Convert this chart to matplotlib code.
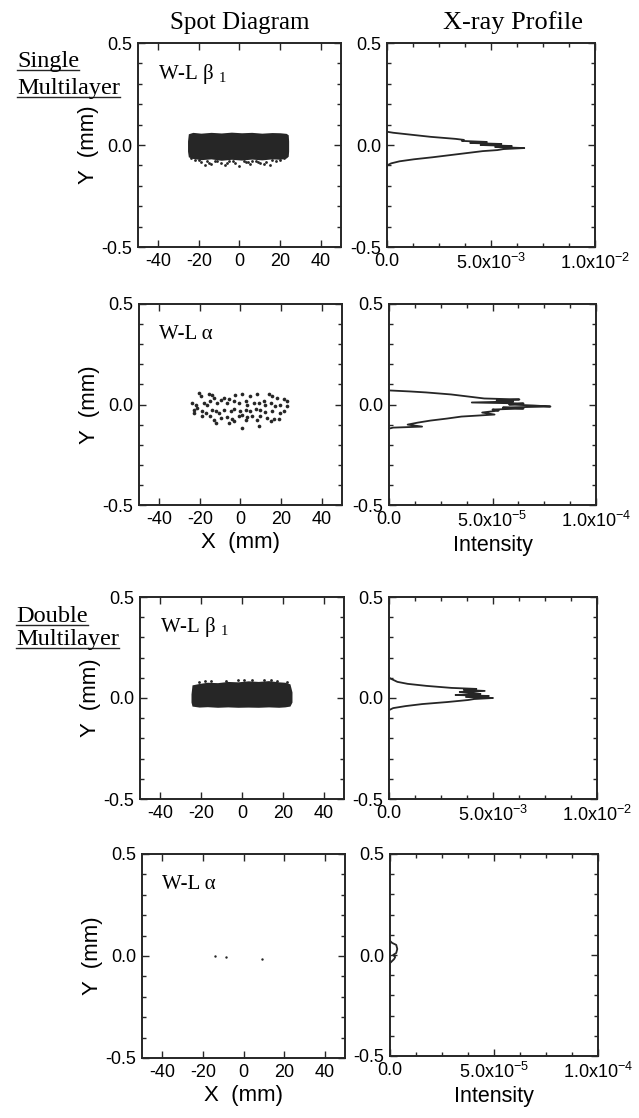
import matplotlib
matplotlib.use("Agg")
import matplotlib.pyplot as plt
from matplotlib.lines import Line2D
from matplotlib.ticker import MultipleLocator

plt.rcParams['font.family'] = ['Liberation Sans', 'DejaVu Sans']
plt.rcParams['axes.unicode_minus'] = False
SERIF = ['Liberation Serif', 'DejaVu Serif']
INK = '#262626'

# ── 光斑外轮廓 (密集区域)：x (mm)，上下边界 y (mm) ──────────────
blob1_x = [-25.6, -25.2, -23.0, -19.0, -14.0, -9.0, -4.0, 1.0, 6.0, 11.0, 16.0, 20.0, 23.0, 24.0, 24.2]
blob1_top = [0.02, 0.055, 0.062, 0.058, 0.062, 0.059, 0.063, 0.060, 0.062, 0.058, 0.061, 0.060, 0.057, 0.05, 0.02]
blob1_bot = [-0.03, -0.058, -0.066, -0.072, -0.068, -0.075, -0.070, -0.074, -0.069, -0.073, -0.068, -0.070, -0.064, -0.055, -0.03]
# 光斑下缘零散点
stray1_x = [-22, -19, -16, -14, -12, -9, -7, -5, -2, 0, 3, 5, 8, 10, 13, 15, 18, 20, -17, -6, 6, 12,
            -20, -11, -3, 2, 9, 16, -24, 22, -15, 4]
stray1_y = [-0.072, -0.082, -0.076, -0.092, -0.078, -0.088, -0.098, -0.080, -0.090, -0.103, -0.083,
            -0.093, -0.078, -0.088, -0.083, -0.097, -0.077, -0.072, -0.098, -0.086, -0.076, -0.093,
            -0.074, -0.079, -0.077, -0.076, -0.081, -0.075, -0.062, -0.066, -0.086, -0.084]

blob3_x = [-25.0, -24.5, -21.0, -17.0, -12.0, -7.0, -2.0, 3.0, 8.0, 13.0, 18.0, 21.0, 23.5, 24.5]
blob3_top = [0.02, 0.065, 0.072, 0.078, 0.076, 0.082, 0.080, 0.085, 0.082, 0.086, 0.080, 0.078, 0.070, 0.03]
blob3_bot = [-0.02, -0.040, -0.045, -0.043, -0.046, -0.044, -0.046, -0.045, -0.046, -0.044, -0.046, -0.044, -0.040, -0.02]
stray3_x = [-21, -15, -8, -2, 5, 11, 17, 22, -18, 1, 14]
stray3_y = [0.080, 0.086, 0.086, 0.088, 0.089, 0.091, 0.085, 0.079, 0.082, 0.087, 0.089]

# W-Lα 单层：稀疏光点
sparse2_x = [-20.5, -19.7, -15.6, -13.9, -13.1, -8.2, -5.7, -2.5, 0.8, 4.9, 8.2, 13.9, 15.6, 18.0, 21.3,
             23.0, -23.8, -22.1, -18.0, -16.4, -14.8, -11.5, -9.8, -6.6, -3.3, -0.8, 2.5, 3.3, 6.6, 9.0,
             11.5, 12.3, 14.8, 17.2, 19.7, 23.0, -23.0, -18.9, -17.2, -13.9, -12.3, -10.7, -8.2, -4.9,
             -3.3, 0.0, 2.5, 4.9, 7.4, 9.8, 12.3, 15.6, 19.7, -18.9, -14.8, -13.1, -9.8, -6.6, -4.1,
             -0.8, 0.8, 3.3, 5.7, 9.8, 13.1, 16.4, 18.9, -12.3, -3.3, 0.8, 9.0, 14.8, -23.0, -21.3,
             21.3, -5.7, 2.5, 8.2]
sparse2_y = [0.055, 0.041, 0.050, 0.045, 0.033, 0.033, 0.028, 0.045, 0.050, 0.041, 0.050, 0.050, 0.041,
             0.033, 0.025, 0.017, 0.008, 0.000, 0.008, 0.000, 0.017, 0.008, 0.022, 0.008, 0.017, 0.008,
             0.017, 0.000, 0.005, 0.008, 0.017, 0.000, 0.008, -0.008, 0.000, -0.008, -0.025, -0.033,
             -0.041, -0.025, -0.033, -0.041, -0.028, -0.033, -0.022, -0.033, -0.025, -0.033, -0.022,
             -0.028, -0.038, -0.033, -0.041, -0.058, -0.058, -0.075, -0.066, -0.061, -0.071, -0.058,
             -0.050, -0.061, -0.055, -0.058, -0.066, -0.071, -0.071, -0.091, -0.083, -0.116, -0.108,
             -0.083, -0.041, -0.017, -0.033, -0.091, -0.075, -0.075]

# W-Lα 双层：仅剩几个点
sparse4_x = [-13.8, -8.4, 8.9]
sparse4_y = [0.000, -0.005, -0.015]

# ── X 射线强度剖面：y (mm) 与强度 ────────────────────────────
prof1_y = [0.065, 0.06, 0.05, 0.04, 0.03, 0.025, 0.02, 0.015, 0.01, 0.005, 0.0, -0.005, -0.01,
           -0.015, -0.02, -0.025, -0.03, -0.04, -0.05, -0.06, -0.07, -0.08, -0.09, -0.10, -0.11]
prof1_i = [0.0, 0.0003, 0.0012, 0.0021, 0.0033, 0.0037, 0.0036, 0.0048, 0.0040, 0.0055, 0.0045,
           0.0060, 0.0052, 0.0066, 0.0056, 0.0053, 0.0046, 0.0038, 0.0030, 0.0022, 0.0013, 0.0006,
           0.0002, 0.0, 0.0]

prof2_y = [0.07, 0.065, 0.06, 0.05, 0.04, 0.03, 0.025, 0.02, 0.015, 0.01, 0.005, 0.0, -0.005, -0.01,
           -0.015, -0.02, -0.025, -0.03, -0.04, -0.05, -0.06, -0.07, -0.08, -0.09, -0.10, -0.11,
           -0.115, -0.12]
prof2_i = [0.0, 1.0e-5, 1.8e-5, 3.0e-5, 3.8e-5, 4.6e-5, 6.3e-5, 5.2e-5, 6.0e-5, 4.0e-5, 6.5e-5,
           5.8e-5, 7.0e-5, 7.8e-5, 5.5e-5, 6.5e-5, 5.0e-5, 5.3e-5, 4.5e-5, 5.1e-5, 3.5e-5, 2.8e-5,
           2.0e-5, 1.4e-5, 0.9e-5, 1.6e-5, 0.2e-5, 0.0]

prof3_y = [0.11, 0.10, 0.09, 0.08, 0.07, 0.06, 0.05, 0.045, 0.04, 0.035, 0.03, 0.025, 0.02, 0.015,
           0.01, 0.005, 0.0, -0.005, -0.01, -0.015, -0.02, -0.03, -0.04, -0.05, -0.06]
prof3_i = [0.0, 0.0, 0.0002, 0.0004, 0.0009, 0.0018, 0.0030, 0.0042, 0.0036, 0.0046, 0.0034, 0.0040,
           0.0044, 0.0032, 0.0048, 0.0037, 0.0050, 0.0041, 0.0038, 0.0033, 0.0028, 0.0016, 0.0008,
           0.0002, 0.0]

prof4_y = [0.07, 0.06, 0.05, 0.03, 0.01, 0.0, -0.01, -0.02, -0.03, -0.04]
prof4_i = [0.0, 0.1e-5, 0.3e-5, 0.35e-5, 0.3e-5, 0.15e-5, 0.25e-5, 0.2e-5, 0.1e-5, 0.0]

spot_xticks = [-40, -20, 0, 20, 40]
y_ticks = [-0.5, 0.0, 0.5]
y_ticklabels = ['-0.5', '0.0', '0.5']
prof_ticks_big = [0.0, 0.005, 0.01]
prof_labels_big = ['0.0', r'$\mathregular{5.0x10^{-3}}$', r'$\mathregular{1.0x10^{-2}}$']
prof_ticks_small = [0.0, 5e-5, 1e-4]
prof_labels_small = ['0.0', r'$\mathregular{5.0x10^{-5}}$', r'$\mathregular{1.0x10^{-4}}$']

W, H = 639, 1118
fig = plt.figure(figsize=(W / 100, H / 100), dpi=100)


def add_axes_px(x0, y0, x1, y1):
    return fig.add_axes([x0 / W, 1 - y1 / H, (x1 - x0) / W, (y1 - y0) / H])


def style(ax):
    ax.set_ylim(-0.5, 0.5)
    ax.set_yticks(y_ticks)
    ax.set_yticklabels(y_ticklabels)
    ax.yaxis.set_minor_locator(MultipleLocator(0.1))
    ax.tick_params(which='both', direction='in', top=True, right=True, labelsize=13, width=1,
                   colors=INK, labelcolor='black')
    ax.tick_params(which='major', length=5, pad=4)
    ax.tick_params(which='minor', length=3)
    for s in ax.spines.values():
        s.set_linewidth(1.4)
        s.set_color(INK)


def spot_axes(rect, label, xlabel):
    ax = add_axes_px(*rect)
    style(ax)
    ax.set_xlim(-50, 50)
    ax.set_xticks(spot_xticks)
    ax.set_ylabel('Y  (mm)', fontsize=16, labelpad=2)
    if xlabel:
        ax.set_xlabel('X  (mm)', fontsize=16, labelpad=3)
    ax.text(-40, 0.35, label, fontsize=15, family=SERIF, va='center', ha='left')
    return ax


def prof_axes(rect, xmax, ticks, labels, xlabel):
    ax = add_axes_px(*rect)
    style(ax)
    ax.set_xlim(0, xmax)
    ax.set_xticks(ticks)
    ax.set_xticklabels(labels)
    ax.xaxis.set_minor_locator(MultipleLocator(xmax / 8))
    if xlabel:
        ax.set_xlabel('Intensity', fontsize=15.5, labelpad=3)
    return ax


beta = 'W-L \u03b2$\\mathregular{_{\\ 1}}$'
alpha = 'W-L \u03b1'

# 第 1 行：单层 W-Lβ1
ax = spot_axes((138, 43, 341, 247), beta, False)
ax.fill_between(blob1_x, blob1_bot, blob1_top, color=INK, lw=0)
ax.scatter(stray1_x, stray1_y, s=4, color=INK, lw=0)
ax = prof_axes((387, 43, 595, 247), 0.01, prof_ticks_big, prof_labels_big, False)
ax.plot(prof1_i, prof1_y, color=INK, lw=1.3)

# 第 2 行：单层 W-Lα
ax = spot_axes((139, 304, 342, 505), alpha, True)
ax.scatter(sparse2_x, sparse2_y, s=7, color=INK, lw=0)
ax = prof_axes((389, 304, 596, 505), 1e-4, prof_ticks_small, prof_labels_small, True)
ax.plot(prof2_i, prof2_y, color=INK, lw=1.3)

# 第 3 行：双层 W-Lβ1
ax = spot_axes((140, 597, 344, 799), beta, False)
ax.fill_between(blob3_x, blob3_bot, blob3_top, color=INK, lw=0)
ax.scatter(stray3_x, stray3_y, s=4, color=INK, lw=0)
ax = prof_axes((389, 597, 597, 799), 0.01, prof_ticks_big, prof_labels_big, False)
ax.plot(prof3_i, prof3_y, color=INK, lw=1.3)

# 第 4 行：双层 W-Lα
ax = spot_axes((142, 854, 345, 1058), alpha, True)
ax.scatter(sparse4_x, sparse4_y, s=3, color=INK, lw=0)
ax = prof_axes((390, 854, 598, 1056), 1e-4, prof_ticks_small, prof_labels_small, True)
ax.plot(prof4_i, prof4_y, color=INK, lw=1.3)

# 列标题
fig.text(240 / W, 1 - 29 / H, 'Spot Diagram', family=SERIF, fontsize=18, ha='center', va='baseline')
fig.text(513 / W, 1 - 29 / H, 'X-ray Profile', family=SERIF, fontsize=19, ha='center', va='baseline')

# 行标题（带下划线）
row_titles = [('Single', 17, 67), ('Multilayer', 17, 94), ('Double', 16, 622), ('Multilayer', 16, 645)]
texts = []
for s, x, y in row_titles:
    texts.append(fig.text(x / W, 1 - y / H, s, family=SERIF, fontsize=17.5, ha='left', va='baseline'))

fig.canvas.draw()
r = fig.canvas.get_renderer()
for t, (s, x, y) in zip(texts, row_titles):
    bb = t.get_window_extent(r)
    yy = 1 - (y + 3) / H
    fig.add_artist(Line2D([bb.x0 / W, bb.x1 / W], [yy, yy], color=INK, lw=1.0,
                          transform=fig.transFigure))

fig.savefig('out.png', dpi=100)
